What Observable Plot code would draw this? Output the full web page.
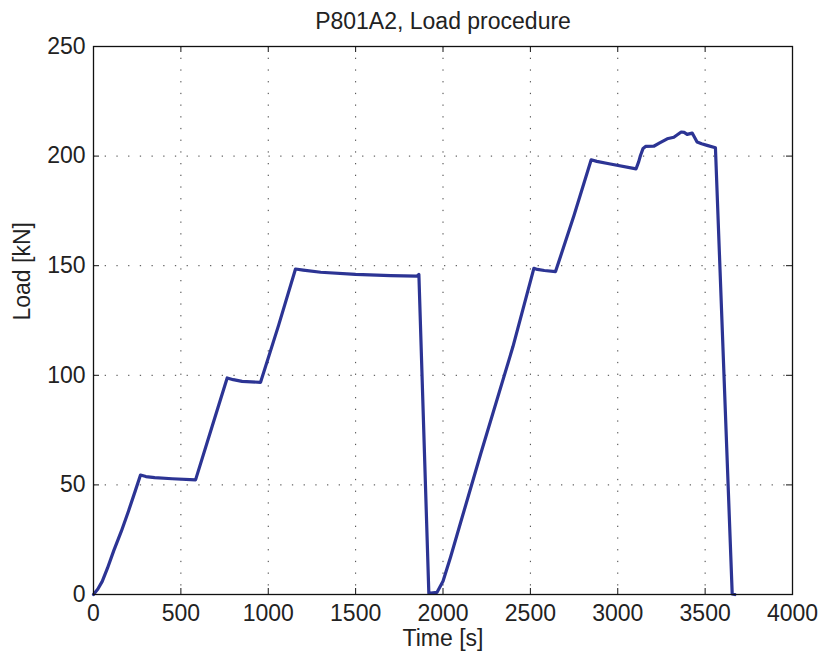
<!DOCTYPE html>
<html>
<head>
<meta charset="utf-8">
<script src="https://cdn.jsdelivr.net/npm/d3@7"></script>
<script src="https://cdn.jsdelivr.net/npm/@observablehq/plot@0.6"></script>
<style>
  html, body { margin: 0; padding: 0; background: #fff; }
  #chart svg { display: block; }
</style>
</head>
<body>
<div id="chart"></div>
<script>
const titleText = "P801A2, Load procedure";
const xLabel = "Time [s]";
const yLabel = "Load [kN]";

const timeS = [0, 25, 50, 80, 116, 160, 200, 240, 269, 300, 350, 450, 584, 680, 765, 800, 850, 956, 1060, 1156, 1200, 1300, 1500, 1700, 1850, 1862, 1919, 1966, 2000, 2043, 2100, 2215, 2400, 2520, 2540, 2580, 2644, 2750, 2848, 2880, 2950, 3105, 3120, 3130, 3145, 3159, 3206, 3240, 3283, 3321, 3363, 3380, 3397, 3426, 3440, 3454, 3480, 3511, 3559, 3655, 3670];
const loadKN = [0, 2.5, 6, 12, 20, 29, 38, 47.5, 54.5, 53.8, 53.3, 52.8, 52.3, 77, 98.8, 98, 97.2, 96.8, 123, 148.5, 148, 147, 146, 145.5, 145.2, 146, 0.5, 1, 6, 17, 32.6, 64, 113, 148.8, 148.3, 147.8, 147.3, 173, 198.3, 197.6, 196.5, 194.2, 197.5, 200.3, 203.5, 204.4, 204.5, 206, 207.9, 208.6, 211, 210.8, 209.9, 210.5, 208.5, 206.4, 205.6, 204.9, 203.8, 0.3, 0];

const xTicks = [0, 500, 1000, 1500, 2000, 2500, 3000, 3500, 4000];
const yTicks = [0, 50, 100, 150, 200, 250];
const xGrid = [500, 1000, 1500, 2000, 2500, 3000, 3500];
const yGrid = [50, 100, 150, 200];

const data = timeS.map((t, i) => ({t, load: loadKN[i]}));

const W = 821, H = 663;
const mL = 93, mR = 29, mT = 46, mB = 69;
const plotW = W - mL - mR, plotH = H - mT - mB;
const tickLen = 6;
const font = "'Liberation Sans', Arial, Helvetica, sans-serif";

const chart = Plot.plot({
  width: W,
  height: H,
  marginLeft: mL,
  marginRight: mR,
  marginTop: mT,
  marginBottom: mB,
  style: {fontFamily: font, fontSize: "23px", color: "#111", background: "#fff"},
  x: {domain: [0, 4000]},
  y: {domain: [0, 250]},
  marks: [
    Plot.gridX(xGrid, {stroke: "#000", strokeOpacity: 0.75, strokeWidth: 1, strokeDasharray: "1.3,10.4"}),
    Plot.gridY(yGrid, {stroke: "#000", strokeOpacity: 0.75, strokeWidth: 1, strokeDasharray: "1.3,10.4"}),
    Plot.line(data, {x: "t", y: "load", stroke: "#2c3494", strokeWidth: 3.2, strokeLinejoin: "round", strokeLinecap: "round"}),
    Plot.tickX(xTicks, {x: d => d, insetTop: plotH - tickLen, stroke: "#111", strokeWidth: 1}),
    Plot.tickX(xTicks, {x: d => d, insetBottom: plotH - tickLen, stroke: "#111", strokeWidth: 1}),
    Plot.tickY(yTicks, {y: d => d, insetRight: plotW - tickLen, stroke: "#111", strokeWidth: 1}),
    Plot.tickY(yTicks, {y: d => d, insetLeft: plotW - tickLen, stroke: "#111", strokeWidth: 1}),
    Plot.frame({stroke: "#111", strokeWidth: 1.3}),
    Plot.axisX(xTicks, {tickSize: 0, tickPadding: 10, fontSize: 23, label: null, fill: "#222", tickFormat: d => String(d)}),
    Plot.axisY(yTicks, {tickSize: 0, tickPadding: 8, fontSize: 23, label: null, fill: "#222", tickFormat: d => String(d)}),
    Plot.text([titleText], {frameAnchor: "top", dy: -18, lineAnchor: "bottom", fontSize: 23, fill: "#222"}),
    Plot.text([xLabel], {frameAnchor: "bottom", dy: 51, lineAnchor: "bottom", fontSize: 23, fill: "#222"}),
    Plot.text([yLabel], {frameAnchor: "left", dx: -64, rotate: -90, lineAnchor: "bottom", fontSize: 23, fill: "#222"})
  ]
});
document.getElementById("chart").appendChild(chart);
</script>
</body>
</html>
